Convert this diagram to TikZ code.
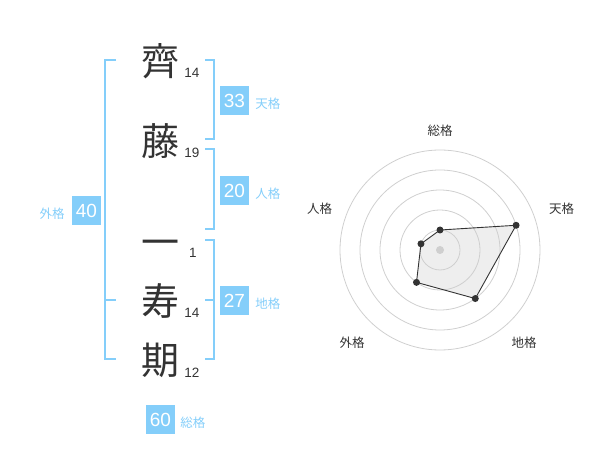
\documentclass[tikz,border=0pt]{standalone}
\usepackage{fontspec}
\setmainfont{Liberation Sans}
\newfontfamily\jpfont{Noto Sans CJK JP}
\usetikzlibrary{positioning}
\definecolor{nmblue}{HTML}{84CEFA}
\definecolor{nmdark}{HTML}{333333}
\definecolor{nmgrid}{HTML}{CFCFCF}
\definecolor{nmfill}{HTML}{EEEEEE}

\begin{document}
\begin{tikzpicture}[x=1pt,y=1pt,
  kanji/.style={font=\jpfont\fontsize{38}{38}\selectfont,text=nmdark,inner sep=0pt},
  strokenum/.style={font=\fontsize{13.5}{13.5}\selectfont,text=nmdark,inner sep=0pt},
  scorebox/.style={fill=nmblue,text=white,minimum size=29pt,inner sep=0pt,
                   font=\fontsize{19}{19}\selectfont},
  scorelabel/.style={font=\jpfont\fontsize{12.5}{12.5}\selectfont,text=nmblue,inner sep=0pt},
  brace/.style={draw=nmblue,line width=2pt},
  axislabel/.style={font=\jpfont\fontsize{12.5}{12.5}\selectfont,text=nmdark,inner sep=0pt},
  datadot/.style={circle,fill=nmdark,inner sep=0pt,minimum size=7pt}
]
\useasboundingbox (0,0) rectangle (600,-470);

% ---- Name characters and stroke counts ----------------------
\node[kanji] (k1) at (160,-61)  {齊};
\node[strokenum] (n1) at (192,-73)  {14};
\node[kanji] (k2) at (160,-141) {藤};
\node[strokenum] (n2) at (192,-153) {19};
\node[kanji] (k3) at (160,-248) {一};
\node[strokenum] (n3) at (193,-253) {1};
\node[kanji] (k4) at (160,-301) {寿};
\node[strokenum] (n4) at (192,-313) {14};
\node[kanji] (k5) at (160,-360) {期};
\node[strokenum] (n5) at (192,-373) {12};

% ---- Brackets ------------------------------------------------
\draw[brace] (116,-60) -- (105,-60) -- (105,-359) -- (116,-359);
\draw[brace] (105,-300) -- (116,-300);
\draw[brace] (205,-60) -- (214,-60) -- (214,-139) -- (205,-139);
\draw[brace] (205,-149) -- (214,-149) -- (214,-229) -- (205,-229);
\draw[brace] (205,-240) -- (214,-240) -- (214,-359) -- (205,-359);
\draw[brace] (214,-300) -- (205,-300);

% ---- Scores --------------------------------------------------
\node[scorebox] (ten) at (234.5,-100.5) {33};
\node[scorelabel,right=6pt of ten,yshift=-3pt] (tenl) {天格};
\node[scorebox] (jin) at (234.5,-190.5) {20};
\node[scorelabel,right=6pt of jin,yshift=-3pt] (jinl) {人格};
\node[scorebox] (gai) at (86.5,-210.5) {40};
\node[scorelabel,left=7pt of gai,yshift=-3pt] (gail) {外格};
\node[scorebox] (chi) at (234.5,-300.5) {27};
\node[scorelabel,right=6pt of chi,yshift=-3pt] (chil) {地格};
\node[scorebox] (sou) at (160.5,-419.5) {60};
\node[scorelabel,right=5pt of sou,yshift=-3pt] (soul) {総格};

% ---- Radar chart ---------------------------------------------
\begin{scope}[shift={(440,-250)}]
  \coordinate (rsou) at (90:20);
  \coordinate (rten) at (18:80);
  \coordinate (rchi) at (-54:60);
  \coordinate (rgai) at (-126:40);
  \coordinate (rjin) at (162:20);
  \fill[nmfill] (rsou) -- (rten) -- (rchi) -- (rgai) -- (rjin) -- cycle;
  \foreach \r in {20,40,60,80,100}
    \draw[nmgrid,line width=0.8pt] (0,0) circle (\r pt);
  \fill[nmgrid] (0,0) circle (4pt);
  \draw[nmdark,line width=0.9pt] (rsou) -- (rten) -- (rchi) -- (rgai) -- (rjin) -- cycle;
  \node[datadot] (dsou) at (rsou) {};
  \node[datadot] (dten) at (rten) {};
  \node[datadot] (dchi) at (rchi) {};
  \node[datadot] (dgai) at (rgai) {};
  \node[datadot] (djin) at (rjin) {};
  \node[axislabel] (asou) at (0,119)       {総格};
  \node[axislabel] (aten) at (121.5,41)    {天格};
  \node[axislabel] (achi) at (84,-92.5)    {地格};
  \node[axislabel] (agai) at (-88,-92.5)   {外格};
  \node[axislabel] (ajin) at (-120.5,41)   {人格};
\end{scope}

\end{tikzpicture}
\end{document}
